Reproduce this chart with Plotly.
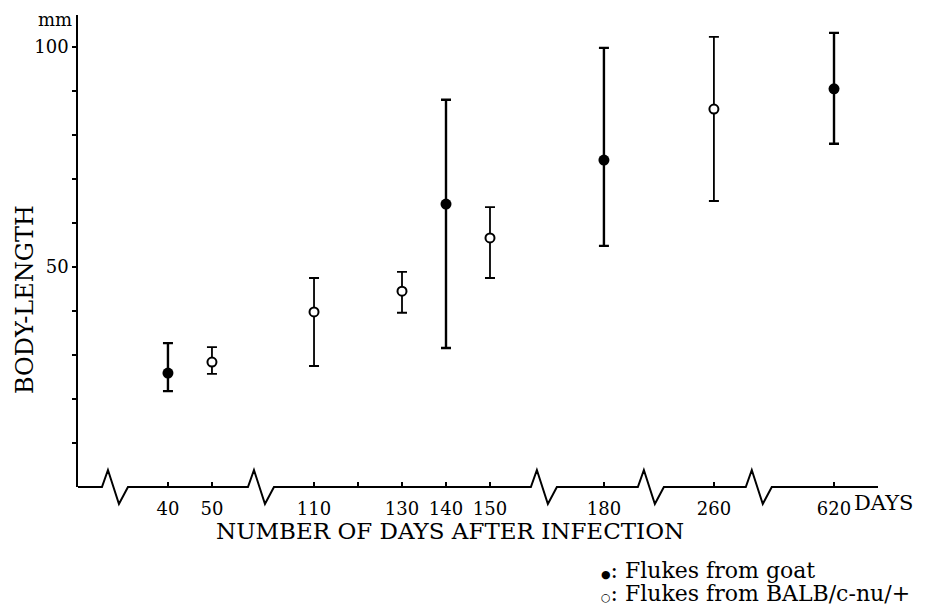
import plotly.graph_objects as go

# ---------------- data ----------------
goat_days = [40, 140, 180, 620]
goat_mean = [25.9, 64.3, 74.3, 90.5]
goat_upper = [32.7, 88.0, 99.8, 103.2]
goat_lower = [21.8, 31.6, 54.8, 78.0]

mouse_days = [50, 110, 130, 150, 260]
mouse_mean = [28.4, 39.8, 44.5, 56.6, 85.9]
mouse_upper = [31.8, 47.5, 48.9, 63.6, 102.3]
mouse_lower = [25.7, 27.5, 39.6, 47.5, 65.0]

tick_days = [40, 50, 110, 120, 130, 140, 150, 180, 260, 620]
tick_labels = ["40", "50", "110", "", "130", "140", "150", "180", "260", "620"]

y_tick_vals = [10, 20, 30, 40, 50, 60, 70, 80, 90, 100]
y_tick_labels = ["", "", "", "", "50", "", "", "", "", "100"]

# ---------------- broken-axis layout (style) ----------------
# (first day, last day, shift) : axis position = day - shift
SEGMENTS = [(0, 60, 0.0), (100, 160, 36.8), (170, 200, 40.9),
            (250, 300, 95.9), (600, 650, 428.6)]
BREAKS = [27.95, 61.14, 125.45, 149.77, 174.3]   # axis positions of zig-zags
X_MIN, X_MAX = 19.55, 201.4
Y_MAX = 107.27

# page body has an 8px default margin -> figure is drawn 8px right/down
OFF = 8
W, H = 952 - OFF, 608 - OFF
ML, MR, MT, MB = 78 - OFF, 74, 15 - OFF, 121
PW, PH = W - ML - MR, H - MT - MB

SERIF = "DejaVu Serif"


def pos(day):
    for lo, hi, shift in SEGMENTS:
        if lo <= day <= hi:
            return day - shift
    raise ValueError(day)


def px_of(p):
    return (p - X_MIN) / (X_MAX - X_MIN)


def errs(mean, up, lo):
    return ([u - m for u, m in zip(up, mean)], [m - l for m, l in zip(mean, lo)])


fig = go.Figure()

gp, gm = errs(goat_mean, goat_upper, goat_lower)
mp, mm = errs(mouse_mean, mouse_upper, mouse_lower)

fig.add_trace(go.Scatter(
    x=[pos(d) for d in mouse_days], y=mouse_mean, mode="markers",
    marker=dict(symbol="circle", size=9, color="white",
                line=dict(color="black", width=2)),
    error_y=dict(type="data", symmetric=False, array=mp, arrayminus=mm,
                 color="black", thickness=1.8, width=5),
    showlegend=False, cliponaxis=False))

fig.add_trace(go.Scatter(
    x=[pos(d) for d in goat_days], y=goat_mean, mode="markers",
    marker=dict(symbol="circle", size=11, color="black",
                line=dict(color="black", width=0)),
    error_y=dict(type="data", symmetric=False, array=gp, arrayminus=gm,
                 color="black", thickness=2.4, width=5),
    showlegend=False, cliponaxis=False))

# x-axis line with zig-zag breaks (paper coordinates)
dxp = 1.0 / PW
dyp = 1.0 / PH
path = "M 0 0"
for b in BREAKS:
    c = px_of(b)
    path += (f" L {c - 13*dxp} 0 L {c - 7*dxp} {17*dyp}"
             f" L {c + 4*dxp} {-17*dyp} L {c + 13*dxp} 0")
path += " L 1 0"
fig.add_shape(type="path", path=path, xref="paper", yref="paper",
              line=dict(color="black", width=2))

fig.update_xaxes(
    range=[X_MIN, X_MAX], showgrid=False, zeroline=False, showline=False,
    tickmode="array", tickvals=[pos(d) for d in tick_days], ticktext=tick_labels,
    ticks="inside", ticklen=5, tickwidth=1.5, tickcolor="black",
    ticklabelstandoff=9,
    tickfont=dict(family=SERIF, size=18, color="black"))

fig.update_yaxes(
    range=[0, Y_MAX], showgrid=False, zeroline=False, showline=True,
    linecolor="black", linewidth=1.5,
    tickmode="array", tickvals=y_tick_vals, ticktext=y_tick_labels,
    ticks="outside", ticklen=4, tickwidth=1.5, tickcolor="black",
    tickfont=dict(family=SERIF, size=18, color="black"))


def fx(screen_x):
    return (screen_x - OFF - ML) / PW


ann_font = dict(family=SERIF, size=22, color="black")
fig.add_annotation(text="BODY-LENGTH", textangle=-90, xref="paper", yref="paper",
                   x=0, xshift=-53, y=(487 - 300) / PH, showarrow=False,
                   xanchor="center", yanchor="middle",
                   font=dict(family=SERIF, size=24, color="black"))
fig.add_annotation(text="NUMBER OF DAYS AFTER INFECTION", xref="paper", yref="paper",
                   x=fx(450), y=0, yshift=-(531 - 487), showarrow=False,
                   xanchor="center", yanchor="middle",
                   font=dict(family=SERIF, size=23, color="black"))
fig.add_annotation(text="mm", xref="paper", yref="paper", x=0, xshift=-4,
                   y=1, yshift=-4, showarrow=False, xanchor="right", yanchor="middle",
                   font=dict(family=SERIF, size=18, color="black"))
fig.add_annotation(text="DAYS", xref="paper", yref="paper", x=fx(852),
                   y=0, yshift=-16, showarrow=False, xanchor="left", yanchor="middle",
                   font=dict(family=SERIF, size=21, color="black"))
fig.add_annotation(text="<span style='font-size:11px'>●</span>: Flukes from goat",
                   xref="paper", yref="paper", x=fx(600), y=0,
                   yshift=-(570 - 487), showarrow=False, xanchor="left",
                   yanchor="middle", font=ann_font, borderpad=0)
fig.add_annotation(text="<span style='font-size:11px'>○</span>: Flukes from BALB/c-nu/+",
                   xref="paper", yref="paper", x=fx(600), y=0,
                   yshift=-(593 - 487), showarrow=False, xanchor="left",
                   yanchor="middle", font=ann_font, borderpad=0)

fig.update_layout(width=W, height=H, margin=dict(l=ML, r=MR, t=MT, b=MB),
                  paper_bgcolor="white", plot_bgcolor="white", showlegend=False)

fig.write_html("out.html")
